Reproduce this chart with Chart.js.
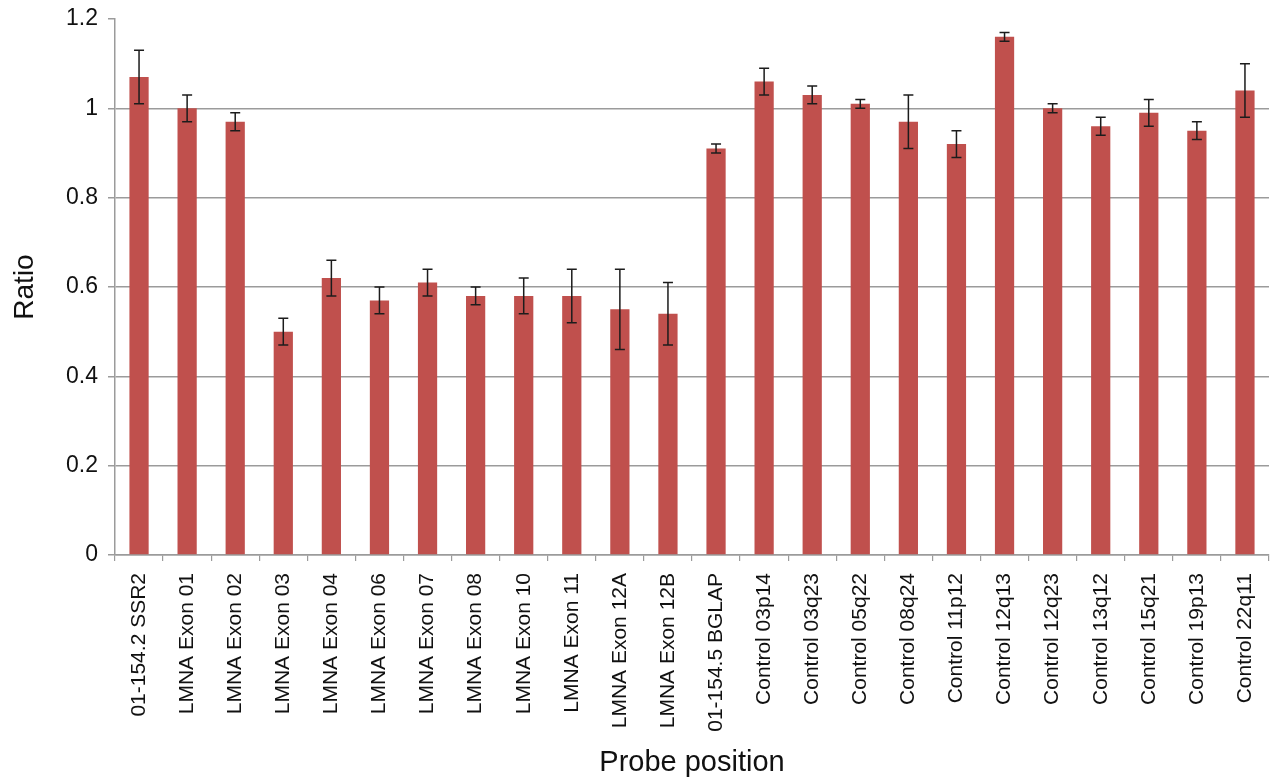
<!DOCTYPE html>
<html>
<head>
<meta charset="utf-8">
<title>Probe ratios</title>
<script src="https://cdn.jsdelivr.net/npm/chart.js@4.4.1/dist/chart.umd.min.js"></script>
<style>
  html, body { margin: 0; padding: 0; background: #ffffff; }
  #wrap { width: 1280px; height: 781px; position: relative; }
</style>
</head>
<body>
<div id="wrap"><canvas id="chart" width="1280" height="781"></canvas></div>
<script>
// Probe names along the x axis
const categories = [
  "01-154.2 SSR2", "LMNA Exon 01", "LMNA Exon 02", "LMNA Exon 03", "LMNA Exon 04",
  "LMNA Exon 06", "LMNA Exon 07", "LMNA Exon 08", "LMNA Exon 10", "LMNA Exon 11",
  "LMNA Exon 12A", "LMNA Exon 12B", "01-154.5 BGLAP", "Control 03p14", "Control 03q23",
  "Control 05q22", "Control 08q24", "Control 11p12", "Control 12q13", "Control 12q23",
  "Control 13q12", "Control 15q21", "Control 19p13", "Control 22q11"
];

// Mean ratio per probe
const ratios = [
  1.07, 1.00, 0.97, 0.50, 0.62,
  0.57, 0.61, 0.58, 0.58, 0.58,
  0.55, 0.54, 0.91, 1.06, 1.03,
  1.01, 0.97, 0.92, 1.16, 1.00,
  0.96, 0.99, 0.95, 1.04
];

// Error (± half-length of each error bar)
const errors = [
  0.06, 0.03, 0.02, 0.03, 0.04,
  0.03, 0.03, 0.02, 0.04, 0.06,
  0.09, 0.07, 0.01, 0.03, 0.02,
  0.01, 0.06, 0.03, 0.01, 0.01,
  0.02, 0.03, 0.02, 0.06
];

// Y axis ticks
const yTicks = [0, 0.2, 0.4, 0.6, 0.8, 1.0, 1.2];

const FONT = "'Liberation Sans', Arial, Helvetica, sans-serif";
const GRID = "#9b9b9b";

// Draws vertical error bars with caps on top of each bar
const errorBars = {
  id: "errorBars",
  afterDatasetsDraw(chart) {
    const meta = chart.getDatasetMeta(0);
    const y = chart.scales.y;
    const ctx = chart.ctx;
    ctx.save();
    ctx.strokeStyle = "#1c1c1c";
    ctx.lineWidth = 1.5;
    const cap = 5;
    meta.data.forEach((bar, i) => {
      const x = bar.x;
      const top = y.getPixelForValue(ratios[i] + errors[i]);
      const bot = y.getPixelForValue(ratios[i] - errors[i]);
      ctx.beginPath();
      ctx.moveTo(x, top); ctx.lineTo(x, bot);
      ctx.moveTo(x - cap, top); ctx.lineTo(x + cap, top);
      ctx.moveTo(x - cap, bot); ctx.lineTo(x + cap, bot);
      ctx.stroke();
    });
    ctx.restore();
  }
};

new Chart(document.getElementById("chart"), {
  type: "bar",
  data: {
    labels: categories,
    datasets: [{
      data: ratios,
      backgroundColor: "#c0504d",
      borderWidth: 0,
      categoryPercentage: 1.0,
      barPercentage: 0.4
    }]
  },
  plugins: [errorBars],
  options: {
    responsive: false,
    animation: false,
    devicePixelRatio: 1,
    layout: { padding: { top: 19, right: 11, left: 0, bottom: 0 } },
    plugins: {
      legend: { display: false },
      tooltip: { enabled: false }
    },
    scales: {
      x: {
        offset: true,
        grid: {
          offset: true,
          drawOnChartArea: false,
          drawTicks: true,
          tickLength: 6,
          tickColor: GRID,
          lineWidth: 1.2
        },
        border: { color: GRID, width: 1.5 },
        ticks: {
          autoSkip: false,
          minRotation: 90,
          maxRotation: 90,
          padding: 12,
          color: "#111",
          font: { family: FONT, size: 21 }
        },
        title: {
          display: true,
          text: "Probe position",
          color: "#111",
          font: { family: FONT, size: 29 },
          padding: { top: 0, bottom: 1 }
        },
        afterFit(scale) {
          scale.height = 226;
          scale.paddingLeft = 0;
          scale.paddingRight = 0;
        }
      },
      y: {
        min: 0,
        max: 1.2,
        afterBuildTicks(scale) { scale.ticks = yTicks.map(v => ({ value: v })); },
        grid: {
          color: (c) => (c.tick && c.tick.value >= 1.2 ? "rgba(0,0,0,0)" : GRID),
          tickColor: GRID,
          tickLength: 7,
          lineWidth: 1.5
        },
        border: { color: GRID, width: 1.5 },
        ticks: {
          padding: 10,
          color: "#111",
          font: { family: FONT, size: 23 },
          callback: (v) => (v === 0 ? "0" : String(Math.round(v * 10) / 10))
        },
        title: {
          display: true,
          text: "Ratio",
          color: "#111",
          font: { family: FONT, size: 28 },
          padding: { top: 8, bottom: 0 }
        },
        afterFit(scale) {
          scale.width = 115;
          scale.paddingTop = 0;
          scale.paddingBottom = 0;
        }
      }
    }
  }
});
</script>
</body>
</html>
